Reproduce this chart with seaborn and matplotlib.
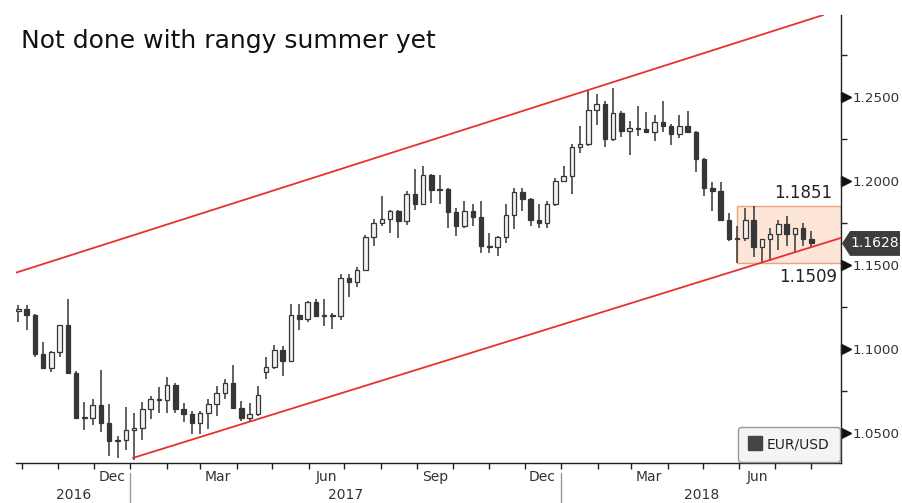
import numpy as np
import pandas as pd
import matplotlib
matplotlib.use("Agg")
import matplotlib.pyplot as plt
import matplotlib.dates as mdates
import seaborn as sns
from matplotlib.lines import Line2D
from matplotlib.patches import Rectangle, Polygon
from matplotlib.transforms import blended_transform_factory

sns.set_theme(style="white")
plt.rcParams["font.family"] = ["DejaVu Sans"]

# ---------------- data (weekly EUR/USD candles) ----------------
week_start = pd.date_range("2016-09-26", periods=97, freq="7D")
opens = [1.1225, 1.1240, 1.1200, 1.0970, 1.0885, 1.0980, 1.1140, 1.0855, 1.0590, 1.0590,
         1.0665, 1.0560, 1.0450, 1.0455, 1.0520, 1.0530, 1.0640, 1.0700, 1.0695, 1.0785,
         1.0640, 1.0615, 1.0560, 1.0620, 1.0670, 1.0740, 1.0800, 1.0650, 1.0590, 1.0615,
         1.0860, 1.0895, 1.0995, 1.0930, 1.1205, 1.1180, 1.1280, 1.1195, 1.1200, 1.1195,
         1.1425, 1.1400, 1.1470, 1.1665, 1.1750, 1.1775, 1.1820, 1.1760, 1.1925, 1.1860,
         1.2035, 1.1945, 1.1950, 1.1815, 1.1730, 1.1820, 1.1785, 1.1610, 1.1605, 1.1665,
         1.1795, 1.1935, 1.1895, 1.1770, 1.1750, 1.1860, 1.2000, 1.2030, 1.2200, 1.2220,
         1.2425, 1.2460, 1.2250, 1.2405, 1.2295, 1.2315, 1.2310, 1.2290, 1.2350, 1.2325,
         1.2280, 1.2330, 1.2290, 1.2130, 1.1960, 1.1940, 1.1770, 1.1655, 1.1660, 1.1770,
         1.1605, 1.1655, 1.1685, 1.1745, 1.1685, 1.1720, 1.1655]
highs = [1.1260, 1.1260, 1.1210, 1.1040, 1.0990, 1.1145, 1.1300, 1.0870, 1.0685, 1.0700,
         1.0875, 1.0670, 1.0480, 1.0655, 1.0620, 1.0685, 1.0720, 1.0775, 1.0830, 1.0800,
         1.0680, 1.0630, 1.0630, 1.0700, 1.0780, 1.0820, 1.0905, 1.0690, 1.0680, 1.0780,
         1.0950, 1.1025, 1.1020, 1.1265, 1.1265, 1.1285, 1.1295, 1.1300, 1.1215, 1.1445,
         1.1445, 1.1490, 1.1680, 1.1775, 1.1910, 1.1830, 1.1830, 1.1940, 1.2070, 1.2090,
         1.2040, 1.2035, 1.1960, 1.1840, 1.1880, 1.1860, 1.1880, 1.1690, 1.1670, 1.1860,
         1.1960, 1.1960, 1.1900, 1.1865, 1.1880, 1.2020, 1.2090, 1.2220, 1.2325, 1.2535,
         1.2520, 1.2475, 1.2555, 1.2415, 1.2355, 1.2445, 1.2410, 1.2390, 1.2475, 1.2340,
         1.2395, 1.2415, 1.2295, 1.2135, 1.1995, 1.1995, 1.1810, 1.1730, 1.1840, 1.1851,
         1.1655, 1.1720, 1.1765, 1.1790, 1.1720, 1.1750, 1.1700]
lows = [1.1160, 1.1110, 1.0955, 1.0880, 1.0860, 1.0950, 1.0850, 1.0585, 1.0520, 1.0550,
        1.0505, 1.0365, 1.0350, 1.0400, 1.0340, 1.0455, 1.0580, 1.0620, 1.0620, 1.0620,
        1.0565, 1.0495, 1.0495, 1.0525, 1.0600, 1.0700, 1.0645, 1.0570, 1.0570, 1.0600,
        1.0820, 1.0880, 1.0840, 1.0920, 1.1110, 1.1160, 1.1190, 1.1135, 1.1120, 1.1170,
        1.1310, 1.1370, 1.1465, 1.1610, 1.1730, 1.1690, 1.1660, 1.1740, 1.1825, 1.1855,
        1.1870, 1.1860, 1.1720, 1.1670, 1.1720, 1.1730, 1.1570, 1.1570, 1.1555, 1.1630,
        1.1715, 1.1820, 1.1730, 1.1720, 1.1720, 1.1850, 1.1995, 1.1920, 1.2165, 1.2210,
        1.2335, 1.2205, 1.2240, 1.2260, 1.2155, 1.2270, 1.2285, 1.2240, 1.2290, 1.2215,
        1.2255, 1.2285, 1.2055, 1.1910, 1.1820, 1.1760, 1.1645, 1.1510, 1.1645, 1.1545,
        1.1509, 1.1525, 1.1590, 1.1615, 1.1575, 1.1615, 1.1600]
closes = [1.1240, 1.1200, 1.0970, 1.0885, 1.0980, 1.1140, 1.0855, 1.0590, 1.0590, 1.0665,
          1.0560, 1.0450, 1.0455, 1.0520, 1.0530, 1.0640, 1.0700, 1.0695, 1.0785, 1.0640,
          1.0615, 1.0560, 1.0620, 1.0670, 1.0740, 1.0800, 1.0650, 1.0590, 1.0615, 1.0725,
          1.0895, 1.0995, 1.0930, 1.1205, 1.1180, 1.1280, 1.1195, 1.1200, 1.1195, 1.1425,
          1.1400, 1.1470, 1.1665, 1.1750, 1.1775, 1.1820, 1.1760, 1.1925, 1.1860, 1.2035,
          1.1945, 1.1950, 1.1815, 1.1730, 1.1820, 1.1785, 1.1610, 1.1605, 1.1665, 1.1795,
          1.1935, 1.1895, 1.1770, 1.1750, 1.1860, 1.2000, 1.2030, 1.2200, 1.2220, 1.2425,
          1.2460, 1.2250, 1.2405, 1.2295, 1.2315, 1.2310, 1.2290, 1.2350, 1.2325, 1.2280,
          1.2330, 1.2290, 1.2130, 1.1960, 1.1940, 1.1770, 1.1655, 1.1660, 1.1770, 1.1605,
          1.1655, 1.1685, 1.1745, 1.1685, 1.1720, 1.1655, 1.1628]

upper_dates = ["2016-09-26", "2018-08-11"]
upper_vals = [1.1454, 1.2988]
lower_dates = ["2017-01-03", "2018-08-26"]
lower_vals = [1.0351, 1.1661]

range_start = "2018-05-30"
range_low, range_high = 1.1509, 1.1851
last_value = 1.1628

y_major = [1.05, 1.10, 1.15, 1.20, 1.25]
y_minor = [1.075, 1.125, 1.175, 1.225, 1.275]
years = [2016, 2017, 2018]
title = "Not done with rangy summer yet"
series_name = "EUR/USD"

# ---------------- figure ----------------
W, H = 903, 503
fig = plt.figure(figsize=(W / 100, H / 100), dpi=100)
fig.patch.set_facecolor("white")
ax = fig.add_axes([16 / W, 40 / H, 825 / W, 448 / H])
ax.set_facecolor("white")

xmin = mdates.date2num(pd.Timestamp("2016-09-26"))
xmax = mdates.date2num(pd.Timestamp("2018-08-26"))

dark = "#363636"
red = "#e8302f"

x = mdates.date2num(week_start + pd.Timedelta(days=2))
o = np.array(opens); h = np.array(highs); l = np.array(lows); c = np.array(closes)
up = c >= o
faces = np.where(up, "#f2f2f2", dark)
body_bottom = np.minimum(o, c)
body_h = np.maximum(np.abs(c - o), 0.0007)

# range box
rs = mdates.date2num(pd.Timestamp(range_start))
ax.add_patch(Rectangle((rs, range_low), xmax - rs, range_high - range_low,
                       facecolor="#fde6d8", edgecolor="#e9a47f", lw=1.0, zorder=1))

ax.vlines(x, l, h, color=dark, lw=1.1, zorder=2)
ax.bar(x, body_h, bottom=body_bottom, width=3.8, color=faces, edgecolor=dark,
       linewidth=0.9, zorder=3)

# channel lines
sns.lineplot(x=mdates.date2num(pd.to_datetime(upper_dates)), y=upper_vals, color=red,
             lw=1.3, ax=ax, zorder=4)
sns.lineplot(x=mdates.date2num(pd.to_datetime(lower_dates)), y=lower_vals, color=red,
             lw=1.3, ax=ax, zorder=4)

ax.set_xlim(xmin, xmax)
ax.set_ylim(1.0321, 1.2988)

for s in ["left", "top"]:
    ax.spines[s].set_visible(False)
for s in ["right", "bottom"]:
    ax.spines[s].set_visible(True)
    ax.spines[s].set_color("#222222")
    ax.spines[s].set_linewidth(1.0)
ax.grid(False)

# y axis on right
ax.yaxis.tick_right()
ax.set_yticks(y_major)
ax.set_yticklabels([f"{v:.4f}" for v in y_major])
ax.set_yticks(y_minor, minor=True)
ax.tick_params(axis="y", which="major", length=0, pad=8.6, labelsize=9.7,
               labelcolor="#333333", right=True, left=False)
ax.tick_params(axis="y", which="minor", length=4, width=1, color="#222222",
               direction="out", right=True, left=False)
bt = blended_transform_factory(ax.transAxes, ax.transData)
ax.plot(np.full(len(y_major), 1.0065), y_major, transform=bt, marker=">", ms=7,
        color="#111111", ls="none", clip_on=False)

# x axis
ax.xaxis.set_major_locator(mdates.MonthLocator())
ax.xaxis.set_major_formatter(matplotlib.ticker.NullFormatter())
ax.xaxis.set_minor_locator(mdates.MonthLocator(bymonth=[3, 6, 9, 12], bymonthday=16))
ax.xaxis.set_minor_formatter(mdates.DateFormatter("%b"))
ax.tick_params(axis="x", which="major", length=4, width=1, color="#222222",
               direction="out", bottom=True)
ax.tick_params(axis="x", which="minor", length=0, pad=5, labelsize=10,
               labelcolor="#333333", bottom=True)

tx = blended_transform_factory(ax.transData, ax.transAxes)
for yr in years:
    a = max(mdates.date2num(pd.Timestamp(f"{yr}-01-01")), xmin)
    b = min(mdates.date2num(pd.Timestamp(f"{yr + 1}-01-01")), xmax)
    ax.text((a + b) / 2, -0.071, str(yr), transform=tx, ha="center", va="center",
            fontsize=10, color="#333333")
    if yr > years[0]:
        d = mdates.date2num(pd.Timestamp(f"{yr}-01-01"))
        ax.plot([d, d], [-0.022, -0.095], transform=tx, color="#9a9a9a", lw=1,
                clip_on=False)

# range labels
ax.text(0.989, range_high + 0.0048, f"{range_high:.4f}", transform=bt, ha="right",
        va="baseline", fontsize=12, color="#222222")
ax.text(0.995, range_low - 0.0110, f"{range_low:.4f}", transform=bt, ha="right",
        va="baseline", fontsize=12, color="#222222")

# last value tag
hh = 0.0074
poly = Polygon([(1.0012, last_value), (1.0110, last_value + hh), (1.0715, last_value + hh),
                (1.0715, last_value - hh), (1.0110, last_value - hh)], closed=True,
               transform=bt, facecolor="#3d3d3d", edgecolor="none", clip_on=False)
ax.add_patch(poly)
ax.text(1.0415, last_value, f"{last_value:.4f}", transform=bt, ha="center", va="center",
        fontsize=10, color="white")

# legend
handle = Line2D([], [], marker="s", ls="none", color="#444444", ms=10, label=series_name)
leg = ax.legend(handles=[handle], loc="lower right", borderaxespad=0.1, frameon=True,
                fancybox=True, fontsize=10, handletextpad=0.3, borderpad=0.75,
                handlelength=1.0)
leg.get_frame().set_facecolor("#f4f4f4")
leg.get_frame().set_edgecolor("#999999")
leg.get_frame().set_alpha(1)
for t in leg.get_texts():
    t.set_color("#222222")

fig.text(21 / W, 1 - 48 / H, title, fontsize=18, ha="left", va="baseline", color="#111111")

fig.savefig("out.png", dpi=100)
